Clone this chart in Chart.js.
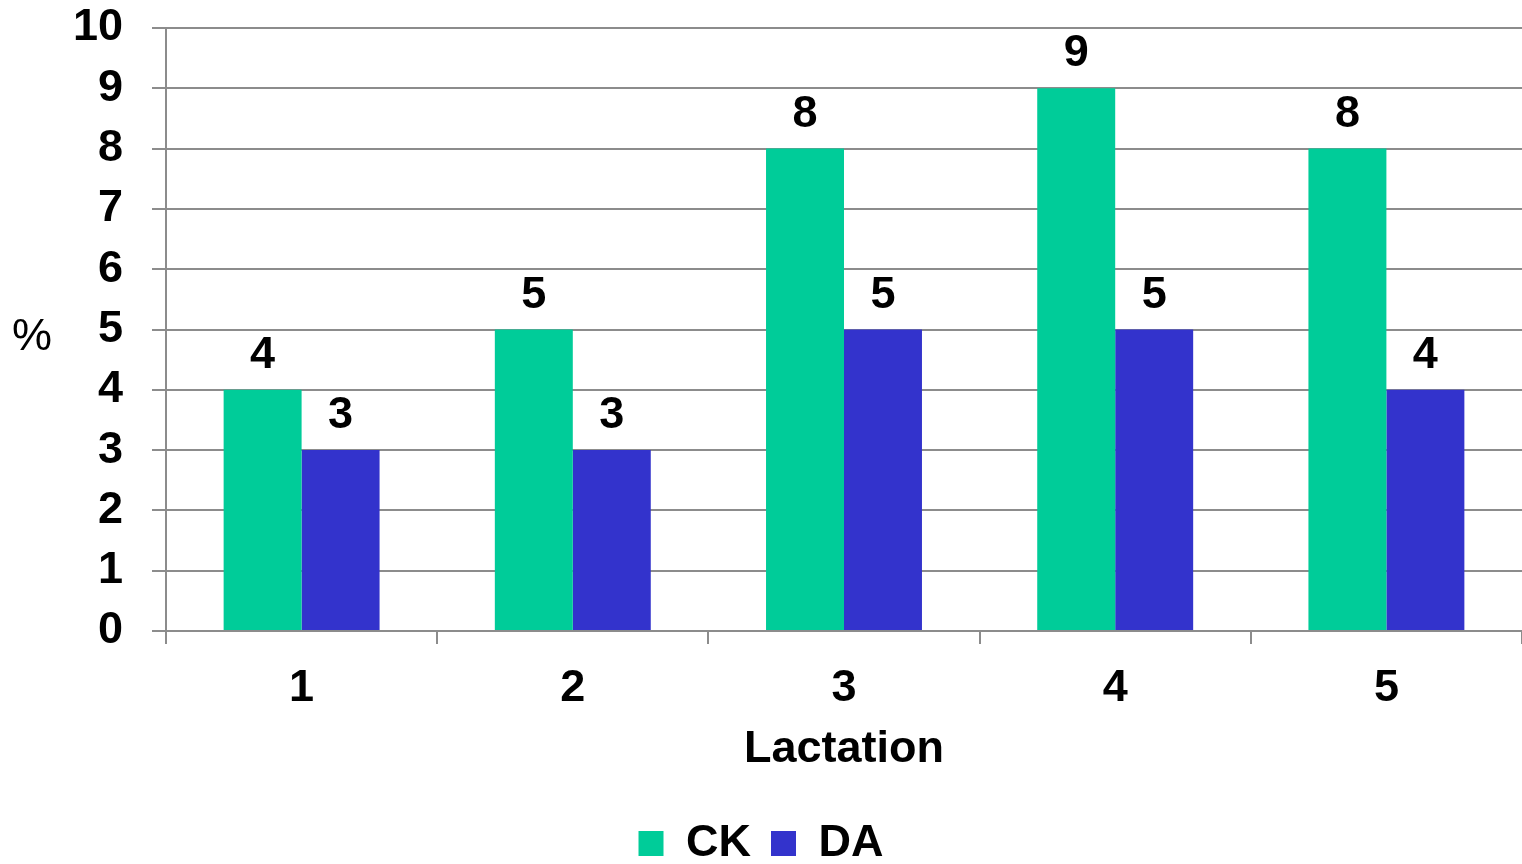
<!DOCTYPE html>
<html>
<head>
<meta charset="utf-8">
<script src="https://cdn.jsdelivr.net/npm/chart.js@4/dist/chart.umd.min.js"></script>
<style>
	html, body { margin: 0; padding: 0; background: #fff; }
	#wrap { width: 1522px; height: 864px; }
</style>
</head>
<body>
<div id="wrap"><canvas id="lactChart"></canvas></div>
<script>
// data
const lactations = ["1", "2", "3", "4", "5"];
const ckValues = [4, 5, 8, 9, 8];
const daValues = [3, 3, 5, 5, 4];
const seriesNames = ["CK", "DA"];
const yTitle = "%";
const xTitle = "Lactation";

const FONT = "'Liberation Sans', Arial, sans-serif";
const GRID = "#8c8c8c";

// value labels above the bars, plus the horizontal "%" title
const barLabels = {
	id: "barLabels",
	afterDatasetsDraw(chart) {
		const ctx = chart.ctx;
		ctx.save();
		ctx.font = "bold 45px " + FONT;
		ctx.fillStyle = "#000";
		ctx.textAlign = "center";
		ctx.textBaseline = "alphabetic";
		chart.data.datasets.forEach((ds, i) => {
			chart.getDatasetMeta(i).data.forEach((bar, j) => {
				ctx.fillText(ds.data[j], bar.x, bar.y - 22);
			});
		});
		ctx.font = "45px " + FONT;
		ctx.textBaseline = "middle";
		ctx.fillText(yTitle, 32, (chart.chartArea.top + chart.chartArea.bottom) / 2 + 8);
		ctx.restore();
	},
};

const ctx = document.getElementById("lactChart").getContext("2d");
const myChart = new Chart(ctx, {
	type: "bar",
	data: {
		labels: lactations,
		datasets: [
			{ label: seriesNames[0], data: ckValues, backgroundColor: "#00cc99" },
			{ label: seriesNames[1], data: daValues, backgroundColor: "#3333cc" },
		],
	},
	options: {
		responsive: true,
		maintainAspectRatio: false,
		animation: false,
		datasets: { bar: { categoryPercentage: 0.575, barPercentage: 1 } },
		layout: { padding: 0 },
		plugins: {
			tooltip: { enabled: false },
			legend: {
				position: "bottom",
				maxHeight: 63,
				labels: {
					font: { family: FONT, size: 45, weight: "bold" },
					color: "#000",
					boxWidth: 25,
					boxHeight: 25,
					padding: 20,
				},
			},
		},
		scales: {
			x: {
				afterFit: (scale) => {
					scale.height = 170;
					scale.paddingLeft = 0;
					scale.paddingRight = 0;
				},
				grid: { drawOnChartArea: false, tickLength: 13, color: GRID, lineWidth: 2 },
				border: { color: GRID, width: 2 },
				ticks: { font: { family: FONT, size: 45, weight: "bold" }, color: "#000", padding: 18 },
				title: {
					display: true,
					text: xTitle,
					font: { family: FONT, size: 45, weight: "bold" },
					color: "#000",
					padding: { top: 0, bottom: 24 },
				},
			},
			y: {
				min: 0,
				max: 10,
				afterFit: (scale) => {
					scale.width = 166;
					scale.paddingTop = 28;
					scale.paddingBottom = 0;
				},
				grid: { tickLength: 14, color: GRID, lineWidth: 2 },
				border: { color: GRID, width: 2 },
				ticks: {
					stepSize: 1,
					autoSkip: false,
					font: { family: FONT, size: 45, weight: "bold" },
					color: "#000",
					padding: 29,
				},
			},
		},
	},
	plugins: [barLabels],
});
</script>
</body>
</html>
